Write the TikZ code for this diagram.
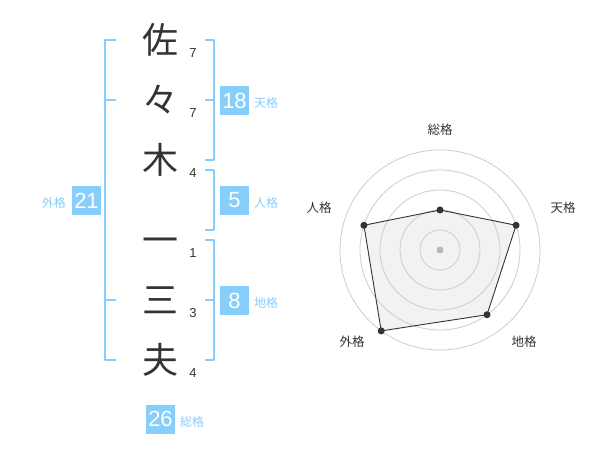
\documentclass[tikz,border=0pt]{standalone}
\usepackage{fontspec}
\setmainfont{Liberation Sans}
\newfontfamily\cjk{Noto Sans CJK JP}
\definecolor{sky}{HTML}{87CEFA}
\definecolor{ink}{HTML}{333333}
\definecolor{ring}{HTML}{CCCCCC}
\definecolor{pane}{HTML}{F2F2F2}
\begin{document}
\begin{tikzpicture}[x=1pt,y=-1pt, line join=round,
		kanji/.style={font=\cjk\fontsize{36}{36}\selectfont, text=ink, inner sep=0pt, anchor=base},
		strokes/.style={font=\fontsize{13}{13}\selectfont, text=ink, inner sep=0pt},
		kakubox/.style={fill=sky, text=white, minimum size=29pt, inner sep=0pt, font=\fontsize{22}{22}\selectfont},
		kakulbl/.style={text=sky, font=\cjk\fontsize{12}{12}\selectfont, inner sep=0pt},
		bracket/.style={draw=sky, line width=2pt},
		axlbl/.style={text=ink, font=\cjk\fontsize{12.5}{12.5}\selectfont, inner sep=0pt}]
				\useasboundingbox (0,0) rectangle (600,470);
				%\draw[thin,color=gray!50] (0,0) grid[step=50] (600,470);
				\node[kanji] (c1) at (160,53.5) {佐};
				\node[kanji] (c2) at (160,113.5) {々};
				\node[kanji] (c3) at (160,173.5) {木};
				\node[kanji] (c4) at (160,253.5) {一};
				\node[kanji] (c5) at (160,313.5) {三};
				\node[kanji] (c6) at (160,373.5) {夫};
				\node[strokes] (n1) at (193,53) {7};
				\node[strokes] (n2) at (193,113) {7};
				\node[strokes] (n3) at (193,173) {4};
				\node[strokes] (n4) at (193,253) {1};
				\node[strokes] (n5) at (193,313) {3};
				\node[strokes] (n6) at (193,373) {4};
				% brackets
				\draw[bracket] (116,40)--(105,40)--(105,360)--(116,360) (105,100)--(116,100) (105,300)--(116,300);
				\draw[bracket] (205,40)--(214,40)--(214,160)--(205,160) (205,100)--(214,100);
				\draw[bracket] (205,170)--(214,170)--(214,230)--(205,230);
				\draw[bracket] (205,240)--(214,240)--(214,360)--(205,360) (205,300)--(214,300);
				% kaku
				\node[kakubox] (ten) at (234.5,100.5) {18};
				\node[kakubox] (jin) at (234.5,200.5) {5};
				\node[kakubox] (chi) at (234.5,300.5) {8};
				\node[kakubox] (gai) at (86.5,200.5) {21};
				\node[kakubox] (sou) at (160.5,419) {26};
				\node[kakulbl, anchor=west] at (254,103) {天格};
				\node[kakulbl, anchor=west] at (254,203) {人格};
				\node[kakulbl, anchor=west] at (254,303) {地格};
				\node[kakulbl, anchor=east] at (66,203) {外格};
				\node[kakulbl, anchor=west] at (180,422) {総格};
				% radar
				\begin{scope}[shift={(440,250)}]
				\coordinate (ps) at (90:40pt);
				\coordinate (pt) at (18:80pt);
				\coordinate (pc) at (-54:80pt);
				\coordinate (pg) at (-126:100pt);
				\coordinate (pj) at (162:80pt);
				\fill[pane] (ps)--(pt)--(pc)--(pg)--(pj)--cycle;
				\foreach \r in {20,40,60,80,100}
					\draw[ring, line width=0.8pt] (0,0) circle[radius=\r pt];
				\draw[ink, line width=0.9pt] (ps)--(pt)--(pc)--(pg)--(pj)--cycle;
				\foreach \p in {ps,pt,pc,pg,pj}
					\fill[ink] (\p) circle(3.5pt);
				\fill[ring!90!black] (0,0) circle(3.5pt);
				\end{scope}
				\node[axlbl] (ls) at (440,130) {総格};
				\node[axlbl] (lt) at (563,208) {天格};
				\node[axlbl] (lc) at (524,342) {地格};
				\node[axlbl] (lg) at (352,342) {外格};
				\node[axlbl] (lj) at (319,208) {人格};
		\end{tikzpicture}
\end{document}
